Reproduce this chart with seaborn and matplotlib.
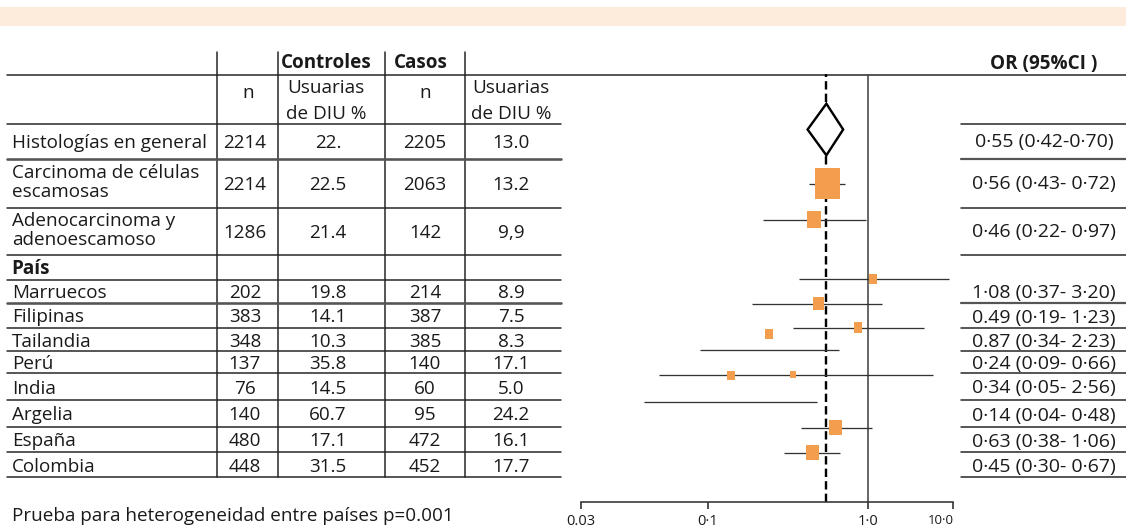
import numpy as np
import matplotlib
matplotlib.use("Agg")
import matplotlib.pyplot as plt
import seaborn as sns
from matplotlib.path import Path
from matplotlib.patches import Rectangle, Polygon
from matplotlib.ticker import NullLocator

# ---------------- data ----------------
row_labels = ["Histologías en general", "Carcinoma de células\nescamosas",
              "Adenocarcinoma y\nadenoescamoso", "Marruecos", "Filipinas", "Tailandia",
              "Perú", "India", "Argelia", "España", "Colombia"]
section_label = "País"
ctrl_n = ["2214", "2214", "1286", "202", "383", "348", "137", "76", "140", "480", "448"]
ctrl_pct = ["22.", "22.5", "21.4", "19.8", "14.1", "10.3", "35.8", "14.5", "60.7", "17.1", "31.5"]
case_n = ["2205", "2063", "142", "214", "387", "385", "140", "60", "95", "472", "452"]
case_pct = ["13.0", "13.2", "9,9", "8.9", "7.5", "8.3", "17.1", "5.0", "24.2", "16.1", "17.7"]
or_est = [0.55, 0.56, 0.46, 1.08, 0.49, 0.87, 0.24, 0.34, 0.14, 0.63, 0.45]
or_lo = [0.42, 0.43, 0.22, 0.37, 0.19, 0.34, 0.09, 0.05, 0.04, 0.38, 0.30]
or_hi = [0.70, 0.72, 0.97, 3.20, 1.23, 2.23, 0.66, 2.56, 0.48, 1.06, 0.67]
or_text = ["0·55 (0·42-0·70)", "0·56 (0·43- 0·72)", "0·46 (0·22- 0·97)",
           "1·08 (0·37- 3·20)", "0.49 (0·19- 1·23)", "0.87 (0·34- 2·23)",
           "0·24 (0·09- 0·66)", "0·34 (0·05- 2·56)", "0·14 (0·04- 0·48)",
           "0·63 (0·38- 1·06)", "0·45 (0·30- 0·67)"]
weight = [np.nan, 77.5, 25.0, 8.0, 14.0, 8.6, 8.0, 4.4, 7.0, 20.4, 19.5]
tick_labels = ["0.03", "0·1", "1·0", "10·0"]
header_top = ["Controles", "Casos"]
header_sub = ["n", "Usuarias", "de DIU %", "n", "Usuarias", "de DIU %"]
or_header = "OR (95%CI )"
footnote = "Prueba para heterogeneidad entre países p=0.001"

# ---------------- style / layout ----------------
sns.set_theme(style="white")
plt.rcParams["font.family"] = ["Open Sans", "DejaVu Sans"]
plt.rcParams["lines.scale_dashes"] = False

W, H = 1126, 527
PT = 0.72  # points per pixel at dpi 100
TXT = "#1a1a1a"
FS = 13.6
FS_OR = 14.0
ORANGE = "#F39D4E"

fig = plt.figure(figsize=(W / 100, H / 100), dpi=100)
ax = fig.add_axes([0, 0, 1, 1])
ax.set_xlim(0, W)
ax.set_ylim(H, 0)
ax.axis("off")

# top band
ax.add_patch(Rectangle((0, 7), W, 19, color="#FDEBDC", lw=0))

# table geometry (pixels)
bounds = [124, 159, 208, 255, 279.7, 302.7, 328.3, 351, 373, 400, 427, 452, 477.3]
centers = [(a + b) / 2 for a, b in zip(bounds[:-1], bounds[1:])]
vcols = [217.3, 278.3, 385, 465]
tab_l, tab_r = 7, 561
or_l = 961
col_x = [245, 328, 425, 511]

def trow(i):
    return i if i < 3 else i + 1

# rules
ax.plot([tab_l, W], [74.5, 74.5], color="#222", lw=1.5 * PT)
for x in vcols:
    ax.plot([x, x], [51.7, bounds[-1]], color="#222", lw=1.5 * PT)
for k, y in enumerate(bounds):
    heavy = k in (1, 5)
    ax.plot([tab_l, tab_r], [y, y], color="#555" if heavy else "#222",
            lw=(2.6 if heavy else 1.5) * PT)
    if k != 4:
        ax.plot([or_l, W], [y, y], color="#555" if heavy else "#222",
                lw=(2.2 if heavy else 1.5) * PT)

# headers
ax.text(326, 68.5, header_top[0], ha="center", va="baseline", fontsize=FS,
        fontweight="bold", color=TXT)
ax.text(421, 68.5, header_top[1], ha="center", va="baseline", fontsize=FS,
        fontweight="bold", color=TXT)
ax.text(1044, 68.5, or_header, ha="center", va="baseline", fontsize=FS,
        fontweight="bold", color=TXT)
for cx, (a, b, c) in zip([(247.7, 326), (425, 511)],
                         [header_sub[0:3], header_sub[3:6]]):
    ax.text(cx[0], 98.3, a, ha="center", va="baseline", fontsize=FS, color=TXT)
    ax.text(cx[1], 93.3, b, ha="center", va="baseline", fontsize=FS, color=TXT)
    ax.text(cx[1], 119.3, c, ha="center", va="baseline", fontsize=FS, color=TXT)

# body
for i, lab in enumerate(row_labels):
    r = trow(i)
    c = centers[r]
    off = 6.0 if r < 3 else 7.0
    if "\n" in lab:
        l1, l2 = lab.split("\n")
        ax.text(11.7, c - 6, l1, ha="left", va="baseline", fontsize=FS, color=TXT)
        ax.text(11.7, c + 13.5, l2, ha="left", va="baseline", fontsize=FS, color=TXT)
    else:
        ax.text(11.7, c + off, lab, ha="left", va="baseline", fontsize=FS, color=TXT)
    for x, v in zip(col_x, [ctrl_n[i], ctrl_pct[i], case_n[i], case_pct[i]]):
        ax.text(x, c + off, v, ha="center", va="baseline", fontsize=FS, color=TXT)
    ax.text(1044, c + off, or_text[i], ha="center", va="baseline", fontsize=FS_OR, color=TXT)
ax.text(11.7, centers[3] + 7.0, section_label, ha="left", va="baseline", fontsize=FS,
        fontweight="bold", color=TXT)
ax.text(11.7, 521, footnote, ha="left", va="baseline", fontsize=FS, color=TXT)

# ---------------- forest plot ----------------
fx0, fx1, fy_top, fy_bot = 581, 953.3, 74, 501.7
ppd, one_px = 160.3, 868.0
x_lo = 10 ** ((fx0 - one_px) / ppd)
x_hi = 10 ** ((fx1 - one_px) / ppd)
axf = fig.add_axes([fx0 / W, 1 - fy_bot / H, (fx1 - fx0) / W, (fy_bot - fy_top) / H])
axf.patch.set_alpha(0)
axf.set_xscale("log")
for s in ("left", "top", "right"):
    axf.spines[s].set_visible(False)
axf.spines["bottom"].set_color("#333")
axf.spines["bottom"].set_linewidth(1.6 * PT)

mark_shift = [-12, 0, -12, -12, -12, -12, -12, -12, -12, -12, -12]
mark_y = np.array([centers[trow(i)] + mark_shift[i] for i in range(len(or_est))])
box_y = mark_y.copy()
box_y[6] = mark_y[5] + 6   # Perú box drawn one row up in the original
box_y[8] = mark_y[7] + 1   # Argelia box drawn one row up in the original

axf.axvline(1.0, color="#444", lw=1.6 * PT, zorder=1)
axf.axvline(or_est[0], color="black", lw=2.4 * PT, dashes=(6, 3), zorder=1)
axf.hlines(mark_y[1:], or_lo[1:], or_hi[1:], color="#333", lw=1.3 * PT, zorder=2)

dh = 25.8
axf.add_patch(Polygon([(or_lo[0], mark_y[0]), (or_est[0], mark_y[0] - dh),
                       (or_hi[0], mark_y[0]), (or_est[0], mark_y[0] + dh)],
                      closed=True, facecolor="white", edgecolor="black",
                      lw=2.4 * PT, zorder=4))

rect = Path([(-0.4, -0.5), (0.4, -0.5), (0.4, 0.5), (-0.4, 0.5), (-0.4, -0.5)],
            [Path.MOVETO, Path.LINETO, Path.LINETO, Path.LINETO, Path.CLOSEPOLY])
wmax = np.nanmax(weight)
sns.scatterplot(x=or_est[1:], y=box_y[1:], size=weight[1:], sizes=(0, 498),
                size_norm=(0, wmax), marker=rect, color=ORANGE, linewidth=0,
                legend=False, ax=axf, zorder=3)

axf.set_xlim(x_lo, x_hi)
axf.set_ylim(fy_bot, fy_top)
axf.set_xticks([x_lo, 0.1, 1, x_hi])
axf.set_xticklabels(tick_labels)
axf.xaxis.set_minor_locator(NullLocator())
axf.set_yticks([])
axf.tick_params(axis="x", direction="out", length=5, width=1.2, color="#333",
                labelsize=10.5, pad=4, labelcolor=TXT, bottom=True)
tl = axf.get_xticklabels()
tl[-1].set_horizontalalignment("right")
tl[-1].set_fontsize(9.5)
axf.set_xlabel("")
axf.set_ylabel("")

fig.savefig("out.png", dpi=100)
